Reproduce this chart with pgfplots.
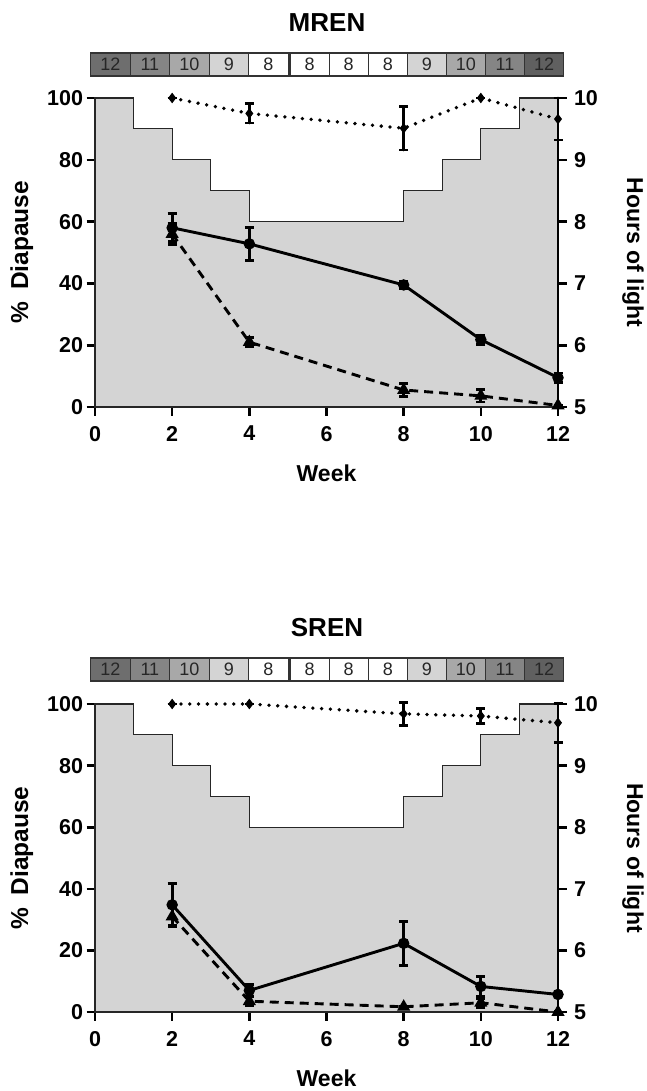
\documentclass[border=0pt]{standalone}
\usepackage{fontspec}
\setmainfont{Liberation Sans}
\usepackage{pgfplots}
\pgfplotsset{compat=1.18}

\definecolor{stepgray}{HTML}{D4D4D4}
\definecolor{h12}{HTML}{6E6E6E}
\definecolor{h12b}{HTML}{606060}
\definecolor{h11}{HTML}{858585}
\definecolor{h10}{HTML}{A8A8A8}
\definecolor{h9}{HTML}{D4D4D4}
\definecolor{h8}{HTML}{FFFFFF}

\pgfplotsset{
 common/.style={
  scale only axis, width=463pt,
  xmin=0, xmax=12,
  axis line style={line width=2.9pt, -},
  every tick/.style={line width=2.6pt, black},
  major tick length=8.5pt,
  tick align=outside,
  ticklabel style={font=\fontsize{21.5}{25}\selectfont\bfseries},
  /pgf/number format/assume math mode=true,
  clip=false,
 },
 leftax/.style={
  common,
  ymin=0, ymax=100,
  axis x line*=bottom, axis y line*=left,
  xtick={0,2,...,12}, ytick={0,20,...,100},
  xticklabel style={yshift=-7pt},
  xlabel={Week}, ylabel={\%\hspace{0.5em}Diapause},
  every axis x label/.style={at={(axis description cs:0.5,-0.215)}, anchor=center, font=\fontsize{23}{27}\selectfont\bfseries},
  every axis y label/.style={at={(axis description cs:-0.158,0.5)}, rotate=90, anchor=center, font=\fontsize{24.5}{28}\selectfont\bfseries},
 },
 rightax/.style={
  common,
  ymin=5, ymax=10,
  axis x line=none, axis y line*=right,
  ytick={5,6,...,10},
  yticklabel style={xshift=4pt},
  ylabel={Hours of light},
  every axis y label/.style={at={(axis description cs:1.162,0.5)}, rotate=-90, anchor=center, font=\fontsize{23}{27}\selectfont\bfseries},
 },
 steps/.style={fill=stepgray, draw=black!85, line width=1.2pt, const plot},
 ebar/.style={error bars/.cd, y dir=both, y explicit,
   error bar style={line width=2.8pt, solid},
   error mark options={rotate=90, line width=2.8pt, mark size=4.5pt, solid}},
 solidser/.style={black, line width=2.9pt, mark=*, mark size=4.2pt, mark options={solid}, ebar},
 dashser/.style={black, line width=2.9pt, dash pattern=on 9pt off 6pt, mark=triangle*, mark size=4.7pt, mark options={solid}, ebar},
 dotser/.style={black, line width=3.8pt, line cap=round, dash pattern=on 0pt off 8.8pt, mark=diamond*, mark size=4.5pt, mark options={solid, line width=1pt}, ebar},
}

\newcommand{\headerbar}[2]{%
  \foreach \i/\c/\t in {0/h12/12,1/h11/11,2/h10/10,3/h9/9,4/h8/8}{
    \draw[fill=\c, draw=black!80, line width=1.1pt] ({90.6pt+\i*39.5pt},-#1pt) rectangle ({90.6pt+(\i+1)*39.5pt},-#2pt);
    \node[font=\fontsize{18}{20}\selectfont, text=black!85] at ({90.6pt+(\i+0.5)*39.5pt},{-(#1pt+#2pt)/2}) {\t};
  }
  \foreach \i/\c/\t in {0/h8/8,1/h8/8,2/h8/8,3/h9/9,4/h10/10,5/h11/11,6/h12b/12}{
    \draw[fill=\c, draw=black!80, line width=1.1pt] ({290pt+\i*39.1pt},-#1pt) rectangle ({290pt+(\i+1)*39.1pt},-#2pt);
    \node[font=\fontsize{18}{20}\selectfont, text=black!85] at ({290pt+(\i+0.5)*39.1pt},{-(#1pt+#2pt)/2}) {\t};
  }
}

\begin{document}
\begin{tikzpicture}
\useasboundingbox (0,0) rectangle (646pt,-1091pt);

% ---------------- TOP: MREN ----------------
\node[font=\fontsize{26}{30}\selectfont\bfseries] at (327pt,-23pt) {MREN};
\headerbar{53}{76}

\begin{axis}[leftax, height=309pt, at={(95pt,-407pt)}, anchor=south west]
\addplot[steps] coordinates {(0,100) (1,90) (2,80) (3,70) (4,60) (8,70) (9,80) (10,90) (11,100) (12,100)} \closedcycle;
\addplot[dotser] table[y error=e] {
x y e
2 100 0
4 95 3.1
8 90.2 7
10 100 0
12 93.2 6.8
};
\addplot[dashser] table[y error=e] {
x y e
2 56 3.5
4 21 1.5
8 5.5 2.2
10 3.6 2
12 0.5 0
};
\addplot[solidser] table[y error=e] {
x y e
2 58 4.5
4 52.8 5.3
8 39.5 1.2
10 21.8 1.5
12 9.5 1.5
};
\end{axis}
\begin{axis}[rightax, height=309pt, at={(95pt,-407pt)}, anchor=south west]
\addplot[draw=none] coordinates {(0,5)};
\end{axis}

% ---------------- BOTTOM: SREN ----------------
\node[font=\fontsize{26}{30}\selectfont\bfseries] at (327pt,-628pt) {SREN};
\headerbar{658}{681}

\begin{axis}[leftax, height=308pt, at={(95pt,-1012pt)}, anchor=south west]
\addplot[steps] coordinates {(0,100) (1,90) (2,80) (3,70) (4,60) (8,70) (9,80) (10,90) (11,100) (12,100)} \closedcycle;
\addplot[dotser] table[y error=e] {
x y e
2 100 0
4 100 0
8 96.8 3.7
10 96.1 2.4
12 93.9 6.3
};
\addplot[dashser] table[y error=e] {
x y e
2 31 3
4 3.5 1.5
8 1.7 0
10 3 1.5
12 0 0
};
\addplot[solidser] table[y error=e] {
x y e
2 34.8 7
4 7 2
8 22.3 7.1
10 8.3 3.2
12 5.7 0
};
\end{axis}
\begin{axis}[rightax, height=308pt, at={(95pt,-1012pt)}, anchor=south west]
\addplot[draw=none] coordinates {(0,5)};
\end{axis}
\end{tikzpicture}
\end{document}
